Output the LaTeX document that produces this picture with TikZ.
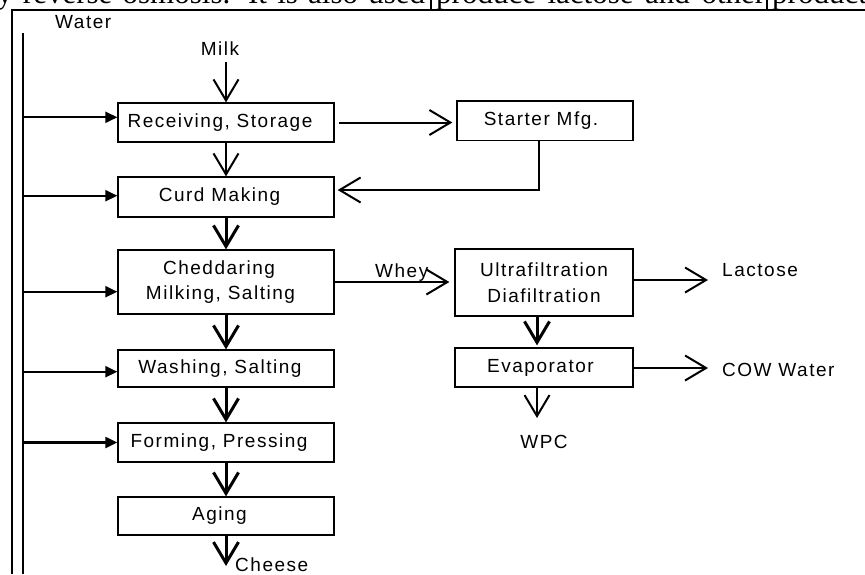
\documentclass[tikz,border=0pt]{standalone}
\usepackage{fontspec}
\setmainfont{Liberation Sans}[LetterSpace=8]
\newfontfamily\bodyserif{Liberation Serif}
\usetikzlibrary{arrows.meta}
% pad a line on the right so its text sits left of the box centre
\newcommand{\padr}[1]{\hspace*{#1pt}}
\begin{document}
\begin{tikzpicture}[x=1pt,y=-1pt,
  box/.style={draw,line width=1.3pt,inner sep=0pt,align=center,
    font=\fontsize{19}{25.7}\selectfont},
  lbl/.style={inner sep=0pt,font=\fontsize{19}{21}\selectfont},
  flow/.style={line width=2pt,-{Straight Barb[length=21pt,width=25pt]}},
  flowthick/.style={flow,line width=3pt},
  feed/.style={line width=2.2pt,-{Triangle[length=12pt,width=11pt]}},
  rule/.style={line width=1.5pt},
  para/.style={anchor=base west,inner sep=0pt,font=\bodyserif\fontsize{31}{31}\selectfont}]
\useasboundingbox (0,0) rectangle (865,574);
\clip (0,0) rectangle (865,574);

% running text above the frame
\node[para] (p1) at (-3,3.5) {\makebox[428pt][s]{y reverse osmosis. It is also used}};
\node[para] (p2) at (436,3.5) {\makebox[329pt][s]{produce lactose and other}};
\node[para] (p3) at (772,3.5) {products};

% frame
\draw[rule] (12,574) -- (12,10) -- (865,10);
\draw[rule] (431,0) -- (431,10);
\draw[rule] (767,0) -- (767,10);

% main process column
\node[box,minimum width=216pt,minimum height=39pt] (recv) at (226,122.5) {Receiving, Storage\padr{12}};
\node[box,minimum width=216pt,minimum height=40pt] (curd) at (226,197) {Curd Making\padr{13}};
\node[box,minimum width=216pt,minimum height=64pt] (ched) at (226,282) {Cheddaring\padr{14}\\Milking, Salting\padr{11}};
\node[box,minimum width=216pt,minimum height=37pt] (wash) at (226,368.5) {Washing, Salting\padr{12}};
\node[box,minimum width=216pt,minimum height=39pt] (form) at (226,442.5) {Forming, Pressing\padr{14}};
\node[box,minimum width=216pt,minimum height=38pt] (aging) at (226,516) {Aging\padr{13}};

% side processes
\node[box,minimum width=176pt,minimum height=39.5pt] (starter) at (545,120.75) {Starter Mfg.\padr{8}};
\node[box,minimum width=178pt,minimum height=67pt] (ultra) at (544,282.5) {Ultrafiltration\\Diafiltration};
\node[box,minimum width=178pt,minimum height=39pt] (evap) at (544,367.5) {Evaporator\padr{7}};

% labels
\node[lbl,anchor=base west] (water) at (55,28.3) {Water};
\node[lbl,anchor=base] (milk) at (220,55.7) {Milk};
\node[lbl,anchor=base west] (cheese) at (235,571.5) {Cheese};
\node[lbl,anchor=base west] (whey) at (375,277.3) {Whey};
\node[lbl,anchor=base west] (lactose) at (722,276) {Lactose};
\node[lbl,anchor=base west] (cow) at (722,376) {COW Water};
\node[lbl,anchor=base] (wpc) at (544,448.3) {WPC};

% water supply line and its branches
\coordinate (wtop) at (23,33);
\coordinate (wbot) at (23,574);
\draw[line width=2pt] (wtop) -- (wbot);
\coordinate (rin) at ([yshift=5.2pt]recv.west);
\coordinate (cin) at ([yshift=1.3pt]curd.west);
\coordinate (hin) at ([yshift=-9.7pt]ched.west);
\coordinate (win) at ([yshift=-3.2pt]wash.west);
\coordinate (fin) at (form.west);
\foreach \t in {rin,cin,hin,win,fin}
  \draw[feed] (wtop |- \t) -- (\t);

% main flow
\coordinate (milkin) at (226,62);
\draw[flow] (milkin) -- (recv.north);
\draw[flow] (recv.south) -- (curd.north);
\draw[flowthick] (curd.south) -- (ched.north);
\draw[flowthick] (ched.south) -- (wash.north);
\draw[flowthick] (wash.south) -- (form.north);
\draw[flowthick] (form.south) -- (aging.north);
\coordinate (cheeseout) at (226,566);
\draw[flowthick] (aging.south) -- (cheeseout);

% starter culture loop
\draw[flow,shorten >=4pt] ([xshift=4pt]recv.east) -- (recv.east -| starter.west);
\draw[flow,shorten >=3pt] ([xshift=-6pt]starter.south) |- ([yshift=7pt]curd.east);

% whey processing
\draw[flow,shorten >=5pt] (ched.east) -- (ched.east -| ultra.west);
\coordinate (lacend) at (708,280);
\draw[flow] (ultra.east |- lacend) -- (lacend);
\draw[flowthick,shorten >=2pt] ([xshift=-7pt]ultra.south) -- ([xshift=-7pt]evap.north);
\coordinate (cowend) at (708,368);
\draw[flow] (evap.east |- cowend) -- (cowend);
\coordinate (wpcend) at (537,418);
\draw[flow] ([xshift=-7pt]evap.south) -- (wpcend);
\end{tikzpicture}
\end{document}
